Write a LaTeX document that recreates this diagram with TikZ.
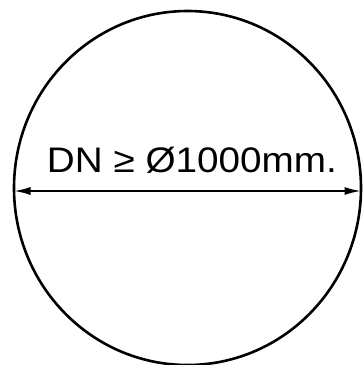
\documentclass[tikz,border=0pt]{standalone}
\usepackage{fontspec}
\setmainfont{Liberation Sans}
\usetikzlibrary{arrows.meta}
\begin{document}
\begin{tikzpicture}[x=1pt,y=-1pt,
  pipe/.style={line width=2.6pt, draw=black},
  dim/.style={line width=1.4pt, {Latex[length=16pt,width=8pt]}-{Latex[length=16pt,width=8pt]}},
  lbl/.style={anchor=base, inner sep=0pt, font=\fontsize{35.5}{40}\selectfont}]
\useasboundingbox (0,0) rectangle (364,365);
\coordinate (c) at (187.5,188);
\draw[pipe] (c) ellipse [x radius=173.5, y radius=177];
\coordinate (l) at (14.5,191);
\coordinate (r) at (360.5,191);
\draw[dim] (l) -- (r);
\node[lbl] (t) at (192,172) {\scalebox{1.09}[1]{DN ≥ Ø1000mm.}};
\end{tikzpicture}
\end{document}
